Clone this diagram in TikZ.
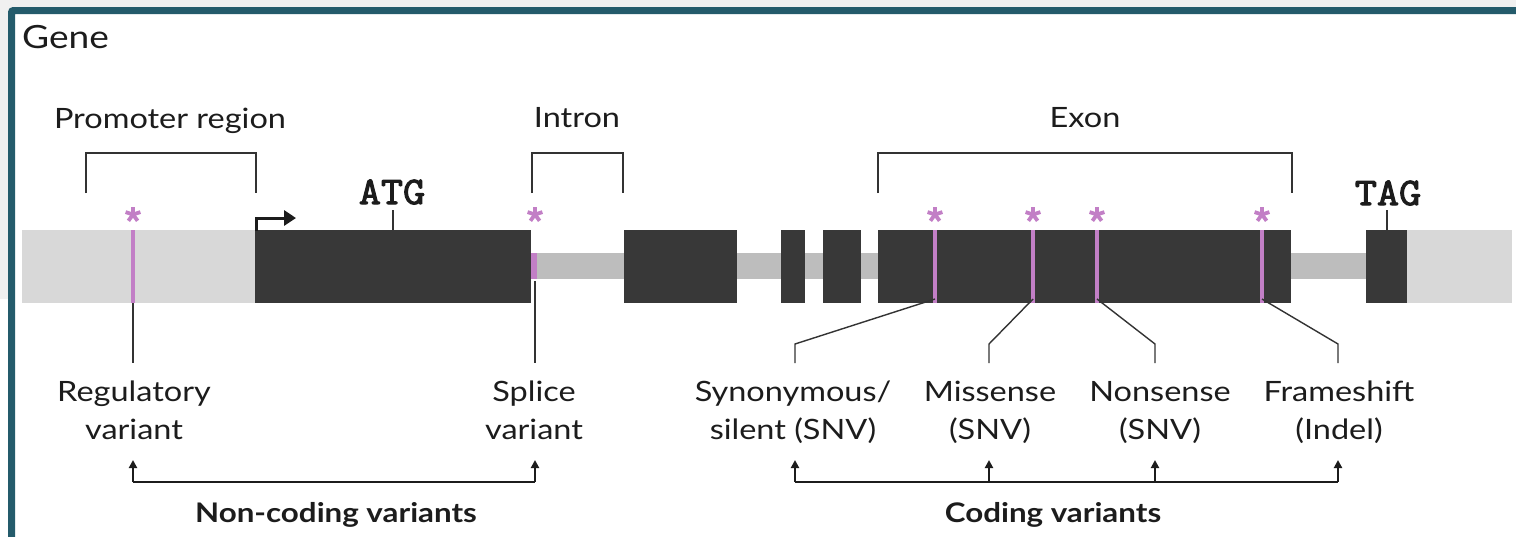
\documentclass[tikz,border=0pt]{standalone}
\usepackage{fontspec}
\setmainfont{Lato}[FakeStretch=1.16]
\newfontfamily\codonfont{Latin Modern Mono}[FakeBold=2.8,FakeStretch=1.1]
\usetikzlibrary{arrows.meta}
\definecolor{framec}{HTML}{245B6B}
\definecolor{outbg}{HTML}{F0F0F0}
\definecolor{lightband}{HTML}{D8D8D8}
\definecolor{intronband}{HTML}{BDBDBD}
\definecolor{darkbox}{HTML}{383838}
\definecolor{varc}{HTML}{C27FC6}
\definecolor{inkc}{HTML}{1C1C1C}
\tikzset{
  lbl/.style={font=\fontsize{28}{38}\selectfont, text=inkc, inner sep=0pt, align=center, anchor=base},
  hdr/.style={font=\fontsize{28}{32}\selectfont, text=inkc, inner sep=0pt, anchor=base},
  grp/.style={font=\bfseries\fontsize{27}{32}\selectfont, text=inkc, inner sep=0pt, anchor=base},
  codon/.style={font=\codonfont\fontsize{39}{42}\selectfont, text=inkc, inner sep=0pt, anchor=base},
  brack/.style={draw=inkc!90, line width=2pt},
  conn/.style={draw=inkc!90, line width=1.4pt},
  grparrow/.style={draw=inkc, line width=2pt, -{Triangle[length=8pt,width=8pt]}},
  varline/.style={draw=varc, line width=4pt},
  starsp/.style={draw=varc, line width=3.8pt},
}
\newcommand\varstar[1]{\foreach \a in {270,342,54,126,198} \draw[starsp] (#1) -- ++(\a:7.8);}
\begin{document}
\begin{tikzpicture}[x=1pt,y=-1pt]
\useasboundingbox (0,0) rectangle (1516,536);
\begin{scope}
\clip (0,0) rectangle (1516,536);
\fill[outbg] (0,0) rectangle (1516,536);
\fill[white] (0,299) rectangle (10,536);
\draw[framec, line width=7pt, fill=white, rounded corners=2pt] (11.5,10.5) rectangle (1560,580);
\end{scope}

% title
\node[hdr, anchor=base west, font=\fontsize{32}{36}\selectfont] (gene) at (22,48) {Gene};

% track
\fill[lightband] (22,230) rectangle (256,303);
\fill[lightband] (1406,230) rectangle (1512,303);
\fill[intronband] (530,253) rectangle (1370,279);
\fill[darkbox] (255,230) rectangle (531,303);
\fill[darkbox] (624,230) rectangle (737,303);
\fill[darkbox] (781,230) rectangle (805,303);
\fill[darkbox] (823,230) rectangle (861,303);
\fill[darkbox] (878,230) rectangle (1291,303);
\fill[darkbox] (1366,230) rectangle (1407,303);

% variant marks
\coordinate (vreg) at (133,303);
\coordinate (vsyn) at (935,303);
\coordinate (vmis) at (1033,303);
\coordinate (vnon) at (1097,303);
\coordinate (vfra) at (1262,303);
\coordinate (vspl) at (535,281);
\foreach \x in {133,935,1033,1097,1262} \draw[varline] (\x,230) -- (\x,303);
\fill[varc] (531,253) rectangle (537,279);
\foreach \x in {133,535,935,1033,1097,1262} {\varstar{\x,214.5}}

% headers and brackets
\node[hdr] (prom) at (170,128) {Promoter region};
\node[hdr] (intr) at (577,127) {Intron};
\node[hdr] (exon) at (1085,127) {Exon};
\draw[brack] (86,193) -- (86,153) -- (256,153) -- (256,193);
\draw[brack] (532,193) -- (532,153) -- (623,153) -- (623,193);
\draw[brack] (878,193) -- (878,153) -- (1292,153) -- (1292,193);

% codons
\node[codon] (atg) at (392,204) {ATG};
\node[codon] (tag) at (1388,205) {TAG};
\draw[conn] (393,210) -- (393,230);
\draw[conn] (1387,210) -- (1387,230);
\draw[draw=inkc, line width=3pt, -{Triangle[length=12pt,width=15pt]}] (256.5,231) -- (256.5,218) -- (296,218);

% labels (base anchor = baseline of last line)
\node[lbl] (reg) at (134,439) {Regulatory\\variant};
\node[lbl] (spl) at (534,439) {Splice\\variant};
\node[lbl] (syn) at (793,439) {Synonymous/\\silent (SNV)};
\node[lbl] (mis) at (990,439) {Missense\\(SNV)};
\node[lbl] (non) at (1160,439) {Nonsense\\(SNV)};
\node[lbl] (fra) at (1339,439) {Frameshift\\(Indel)};

% connectors from variants to labels
\draw[conn] (vreg) -- (133,363);
\draw[conn] (vspl) -- (535,363);
\draw[conn] ([yshift=4]vsyn) -- (795,344) -- (795,363);
\draw[conn] ([yshift=4]vmis) -- (989,344) -- (989,363);
\draw[conn] ([yshift=4]vnon) -- (1155,344) -- (1155,363);
\draw[conn] ([yshift=4]vfra) -- (1338,344) -- (1338,363);

% group arrows
\coordinate (nc1) at (133,482);
\coordinate (nc2) at (535,482);
\draw[grparrow] (nc1) -- (133,460);
\draw[grparrow] (nc2) -- (535,460);
\draw[draw=inkc, line width=2pt] (nc1) -- (nc2);
\coordinate (c1) at (795,482);
\coordinate (c4) at (1338,482);
\draw[draw=inkc, line width=2pt] (c1) -- (c4);
\foreach \x in {795,989,1155,1338} \draw[grparrow] (\x,482) -- (\x,460);

\node[grp] (ncv) at (336,522) {Non-coding variants};
\node[grp] (cv) at (1053,522) {Coding variants};
\end{tikzpicture}
\end{document}
